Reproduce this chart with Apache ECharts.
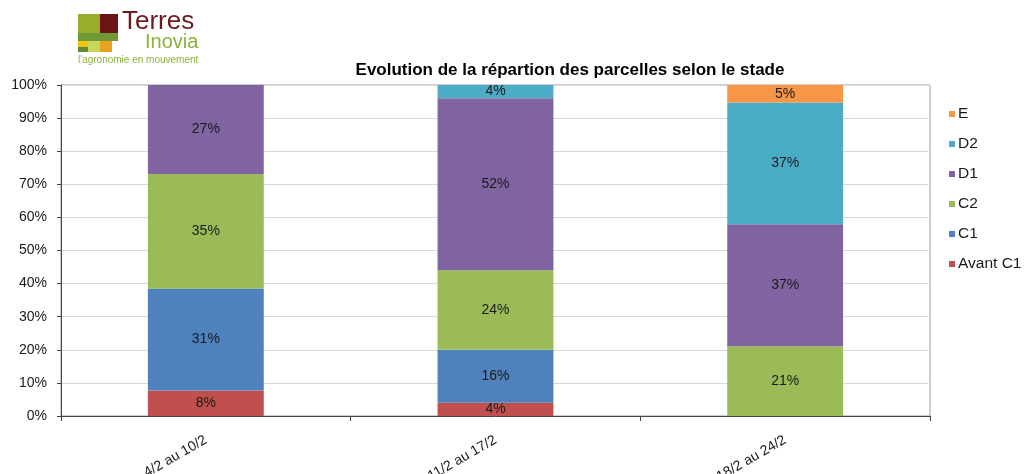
<!DOCTYPE html>
<html>
<head>
<meta charset="utf-8">
<script src="https://cdn.jsdelivr.net/npm/echarts@6/dist/echarts.min.js"></script>
<style>
    html, body { margin: 0; padding: 0; background: #fff; }
    #chart { width: 1027px; height: 474px; }
</style>
</head>
<body>
<div id="chart"></div>
<script>
// periodes (axe x)
var categories = ['4/2 au 10/2', '11/2 au 17/2', '18/2 au 24/2'];
// part des parcelles par stade, en %
var avantC1 = [7.7, 4, 0];
var c1 = [30.8, 16, 0];
var c2 = [34.6, 24, 21.1];
var d1 = [26.9, 52, 36.8];
var d2 = [0, 4, 36.8];
var e = [0, 0, 5.3];
var yTicks = { min: 0, max: 100, interval: 10 };

var colors = ['#C0504D', '#4F81BD', '#9BBB59', '#8064A2', '#4BACC6', '#F79646'];
var font = 'Liberation Sans, Arial, sans-serif';

function stackSerie(name, data, color) {
    return {
        name: name,
        type: 'bar',
        stack: 'total',
        barWidth: '40%',
        data: data,
        itemStyle: { color: color },
        label: {
            show: true,
            position: 'inside',
            color: '#1a1a1a',
            fontFamily: font,
            fontSize: 14,
            formatter: function (p) {
                return p.value > 0 ? Math.round(p.value) + '%' : '';
            }
        }
    };
}

var dom = document.getElementById('chart');
var myChart = echarts.init(dom);
var option = {
    animation: false,
    textStyle: { fontFamily: font },
    title: {
        text: 'Evolution de la répartion des parcelles selon le stade',
        left: 565,
        textAlign: 'center',
        top: 57,
        textStyle: { fontSize: 17, fontWeight: 'bold', color: '#000', fontFamily: font }
    },
    legend: {
        orient: 'vertical',
        left: 944,
        top: 101,
        itemWidth: 6,
        itemHeight: 6,
        itemGap: 14,
        icon: 'rect',
        textStyle: { fontSize: 15.5, color: '#1a1a1a', fontFamily: font, padding: [0, 0, 0, -2] },
        data: ['E', 'D2', 'D1', 'C2', 'C1', 'Avant C1']
    },
    grid: {
        left: 61,
        right: 97,
        top: 85,
        bottom: 58,
        outerBoundsMode: 'none',
        containLabel: false,
        show: true,
        borderColor: '#9a9a9a',
        borderWidth: 1
    },
    xAxis: {
        type: 'category',
        data: categories,
        axisLine: { lineStyle: { color: '#444', width: 1 } },
        axisTick: { show: true, length: 5, lineStyle: { color: '#444' } },
        axisLabel: {
            rotate: 30,
            margin: 23,
            color: '#1a1a1a',
            fontSize: 14,
            fontFamily: font
        }
    },
    yAxis: {
        type: 'value',
        min: yTicks.min,
        max: yTicks.max,
        interval: yTicks.interval,
        axisLine: { show: true, lineStyle: { color: '#444', width: 1 } },
        axisTick: { show: true, length: 4, lineStyle: { color: '#444' } },
        splitLine: { show: true, lineStyle: { color: '#d9d9d9' } },
        axisLabel: {
            formatter: '{value}%',
            margin: 14,
            color: '#1a1a1a',
            fontSize: 14,
            fontFamily: font
        }
    },
    graphic: [
        // logo Terres Inovia
        { type: 'rect', shape: { x: 78, y: 14, width: 22, height: 19 }, style: { fill: '#9aac2c' } },
        { type: 'rect', shape: { x: 100, y: 14, width: 18, height: 19 }, style: { fill: '#6b1519' } },
        { type: 'rect', shape: { x: 78, y: 33, width: 40, height: 8 }, style: { fill: '#6f9a36' } },
        { type: 'rect', shape: { x: 78, y: 41, width: 10, height: 6 }, style: { fill: '#f2c318' } },
        { type: 'rect', shape: { x: 78, y: 47, width: 10, height: 5 }, style: { fill: '#5c8a2e' } },
        { type: 'rect', shape: { x: 88, y: 41, width: 12, height: 11 }, style: { fill: '#c8d65a' } },
        { type: 'rect', shape: { x: 100, y: 41, width: 12, height: 11 }, style: { fill: '#e9a21f' } },
        { type: 'text', left: 122, top: 9, style: { text: 'Terres', fill: '#6b1a22', font: '26px ' + font } },
        { type: 'text', left: 145, top: 32, style: { text: 'Inovia', fill: '#8cb23a', font: '20px ' + font } },
        { type: 'text', left: 78, top: 55, style: { text: "l'agronomie en mouvement", fill: '#8cb23a', font: '10px ' + font } }
    ],
    series: [
        stackSerie('Avant C1', avantC1, colors[0]),
        stackSerie('C1', c1, colors[1]),
        stackSerie('C2', c2, colors[2]),
        stackSerie('D1', d1, colors[3]),
        stackSerie('D2', d2, colors[4]),
        stackSerie('E', e, colors[5])
    ]
};
myChart.setOption(option, true);
</script>
</body>
</html>
